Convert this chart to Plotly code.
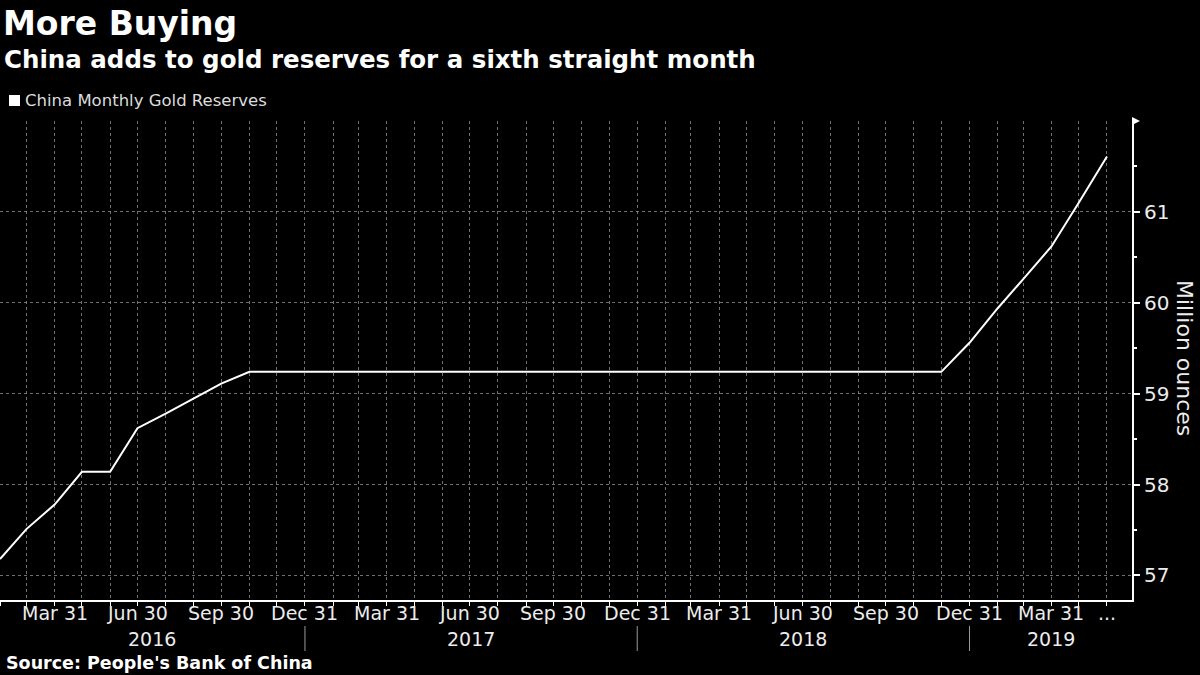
import pandas as pd
import plotly.graph_objects as go

# month-end dates Jan 2016 .. May 2019
dates = pd.date_range("2016-02-01", "2019-06-01", freq="MS") - pd.Timedelta(days=1)

reserves = [
    57.18, 57.51, 57.78, 58.14, 58.14, 58.62, 58.78, 58.95, 59.11, 59.24,  # Jan-Oct 2016
    59.24, 59.24,  # Nov-Dec 2016
    59.24, 59.24, 59.24, 59.24, 59.24, 59.24, 59.24, 59.24, 59.24, 59.24, 59.24, 59.24,  # 2017
    59.24, 59.24, 59.24, 59.24, 59.24, 59.24, 59.24, 59.24, 59.24, 59.24, 59.24,  # Jan-Nov 2018
    59.56,  # Dec 2018
    59.94, 60.26, 60.62, 61.10, 61.61,  # Jan-May 2019
]
years = ["2016", "2017", "2018", "2019"]
y_ticks = [57, 58, 59, 60, 61]

x_start = pd.Timestamp("2016-01-31")
x_end = pd.Timestamp("2019-06-27 12:00")

# plot area in pixels: x 0..1132, y 121..600
W, L, R, T, B = 1200, 0, 1132, 121, 600


def px(x):
    return (x - L) / (R - L)


def py(y):
    return (B - y) / (B - T)


tick_text = []
for d in dates:
    if d == dates[-1]:
        tick_text.append("...")
    elif d.month in (3, 6, 9, 12):
        tick_text.append(d.strftime("%b %d").replace(" 0", " "))
    else:
        tick_text.append("")

fig = go.Figure()
fig.add_trace(go.Scatter(x=dates, y=reserves, mode="lines", name="China Monthly Gold Reserves",
                         line=dict(color="white", width=2), showlegend=False))

grid = "rgba(150,150,150,0.75)"
tickfont = dict(family="DejaVu Sans", size=19, color="#ececec")

fig.update_layout(
    width=1200, height=675,
    paper_bgcolor="black", plot_bgcolor="black",
    margin=dict(l=L, r=W - R, t=T, b=675 - B),
    font=dict(family="DejaVu Sans", color="white"),
    xaxis=dict(type="date", range=[x_start, x_end], tickmode="array", tickvals=list(dates),
               showticklabels=False, showgrid=True, gridcolor=grid, griddash="3px,3px",
               gridwidth=1, ticks="outside", ticklen=4, tickcolor="white", showline=True,
               linecolor="white", linewidth=2, zeroline=False),
    yaxis=dict(side="right", range=[56.73, 62.0], tickvals=y_ticks, showgrid=True,
               gridcolor=grid, griddash="3px,3px", gridwidth=1, ticks="outside", ticklen=6,
               tickwidth=2, tickcolor="white", showline=True, linecolor="white", linewidth=2,
               tickfont=dict(family="DejaVu Sans", size=20, color="#ececec"), zeroline=False,
               minor=dict(dtick=0.5, tick0=56.5, ticks="outside", ticklen=3, tickcolor="white",
                          showgrid=False)),
)

ann = [
    dict(text="<b>More Buying</b>", x=px(1), y=py(23), font=dict(size=33, family="DejaVu Sans")),
    dict(text="<b>China adds to gold reserves for a sixth straight month</b>", x=px(2), y=py(60),
         font=dict(size=24.5, family="DejaVu Sans")),
    dict(text="China Monthly Gold Reserves", x=px(23), y=py(101),
         font=dict(size=16.5, family="DejaVu Sans", color="#dcdcdc")),
    dict(text="<b>Source: People's Bank of China</b>", x=px(4), y=py(663),
         font=dict(size=17.5, family="DejaVu Sans")),
    dict(text="Million ounces", x=px(1185), y=py(358), textangle=90, xanchor="center",
         font=dict(size=22, family="DejaVu Sans", color="#ececec")),
]
for a in ann:
    a.setdefault("xanchor", "left")
    fig.add_annotation(xref="paper", yref="paper", yanchor="middle", showarrow=False, **a)

# month tick labels (quarter ends) placed just under the axis line
for d, t in zip(dates, tick_text):
    if t:
        fig.add_annotation(x=d, y=py(613), xref="x", yref="paper", text=t, showarrow=False,
                           font=tickfont, xanchor="center", yanchor="middle")

# year labels centred on the visible part of each year, with separators
bounds = [x_start] + [pd.Timestamp(f"{y}-12-31") for y in years[:-1]] + [x_end]
for i, yr in enumerate(years):
    mid = bounds[i] + (bounds[i + 1] - bounds[i]) / 2
    fig.add_annotation(x=mid, y=py(639), xref="x", yref="paper", text=yr, showarrow=False,
                       font=tickfont, xanchor="center", yanchor="middle")
for b in bounds[1:-1]:
    fig.add_shape(type="line", x0=b, x1=b, xref="x", yref="paper", y0=py(626), y1=py(651),
                  line=dict(color="#9a9a9a", width=1))

# legend square
fig.add_shape(type="rect", xref="paper", yref="paper", x0=px(9), x1=px(20), y0=py(106), y1=py(95),
              fillcolor="white", line=dict(width=0))

# arrowhead at top of the value axis
fig.add_shape(type="path", xref="paper", yref="paper", xsizemode="pixel", ysizemode="pixel",
              xanchor=1, yanchor=1, path="M 0 4 L 8 0 L 0 -4 Z", fillcolor="white",
              line=dict(width=0))

fig.write_html("out.html", config={"displayModeBar": False},
               post_script="document.body.style.margin='0';")
